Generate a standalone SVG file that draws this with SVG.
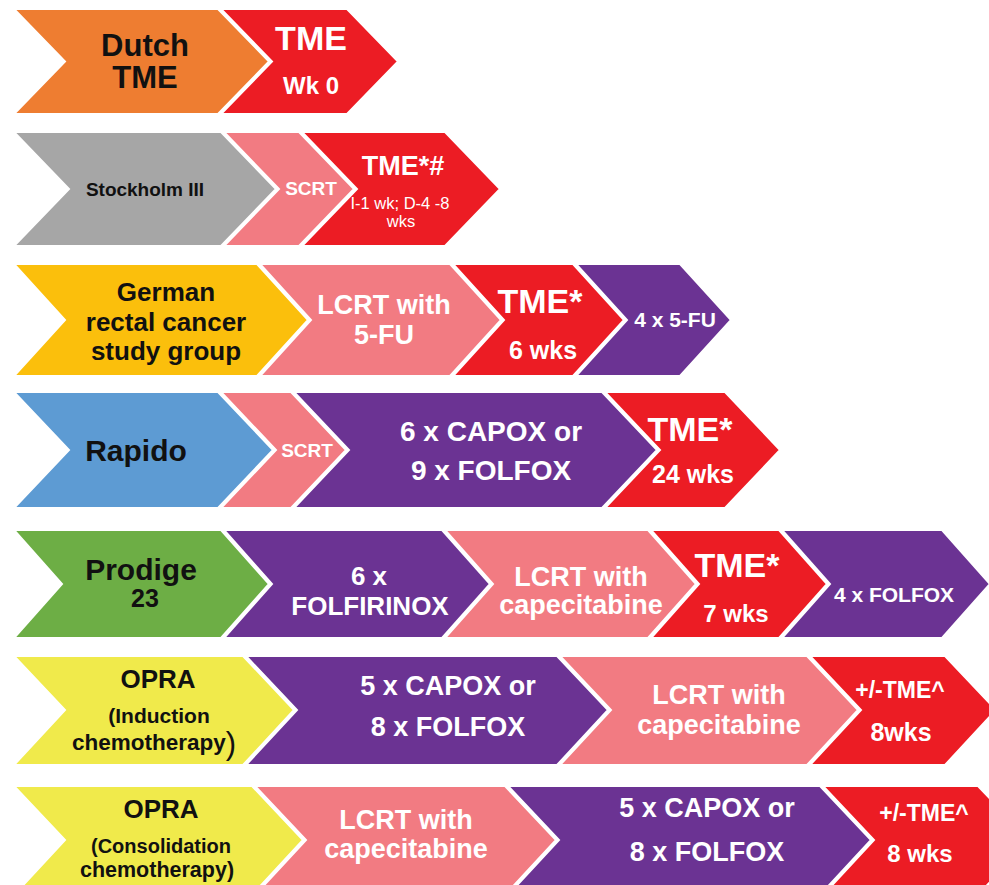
<svg xmlns="http://www.w3.org/2000/svg" width="989" height="885" viewBox="0 0 989 885">
<style>
polygon{stroke:#fff;stroke-width:2;stroke-linejoin:miter}
text{font-family:"Liberation Sans",Arial,sans-serif;font-weight:bold;text-anchor:middle}
.w{fill:#fff}
.k{fill:#111}
.reg{font-weight:normal}
.or{fill:#EE7D31}.rd{fill:#EC1C24}.gy{fill:#A6A6A6}.pk{fill:#F27B82}.gd{fill:#FBBF0C}.pu{fill:#6B3393}.bl{fill:#5D9BD3}.gn{fill:#6DAE45}.yl{fill:#F0EA4B}
</style>
<rect width="989" height="885" fill="#fff"/>
<g id="row-dutch">
<g id="dutch-label"><polygon class="or" points="14,9 218,9 269,61.5 218,114 14,114 65,61.5"/><text class="k" x="145" y="56" font-size="31">Dutch</text><text class="k" x="145" y="88" font-size="31">TME</text></g>
<g id="dutch-tme"><polygon class="rd" points="221,9 347,9 398,61.5 347,114 221,114 272,61.5"/><text class="w" x="311" y="50" font-size="34">TME</text><text class="w" x="311" y="94" font-size="24">Wk 0</text></g>
</g>
<g id="row-stockholm">
<g id="stockholm-label"><polygon class="gy" points="14,132 221,132 276,189 221,246 14,246 69,189"/><text class="k" x="145" y="196" font-size="19">Stockholm III</text></g>
<g id="stockholm-tme"><polygon class="rd" points="302,132 445,132 500,189 445,246 302,246 357,189"/><text class="w" x="403" y="175" font-size="27">TME*#</text><text class="w reg" x="400" y="209" font-size="16.5">I-1 wk; D-4 -8</text><text class="w reg" x="401" y="227" font-size="16.5">wks</text></g>
<g id="stockholm-scrt"><polygon class="pk" points="224,132 299,132 354,189 299,246 224,246 279,189"/><text class="w" x="311" y="195" font-size="19">SCRT</text></g>
</g>
<g id="row-german">
<g id="german-label"><polygon class="gd" points="14,264 257,264 308,320 257,376 14,376 65,320"/><text class="k" x="166" y="301" font-size="26">German</text><text class="k" x="166" y="331" font-size="26">rectal cancer</text><text class="k" x="166" y="360" font-size="26">study group</text></g>
<g id="german-lcrt"><polygon class="pk" points="260,264 450,264 501,320 450,376 260,376 311,320"/><text class="w" x="384" y="314" font-size="27">LCRT with</text><text class="w" x="384" y="344" font-size="27">5-FU</text></g>
<g id="german-tme"><polygon class="rd" points="453,264 573,264 624,320 573,376 453,376 504,320"/><text class="w" x="540" y="313" font-size="34">TME*</text><text class="w" x="543" y="359" font-size="25">6 wks</text></g>
<g id="german-5fu"><polygon class="pu" points="576,264 680,264 731,320 680,376 576,376 627,320"/><text class="w" x="675" y="327" font-size="21">4 x 5-FU</text></g>
</g>
<g id="row-rapido">
<g id="rapido-label"><polygon class="bl" points="14,392 218,392 273,450 218,508 14,508 69,450"/><text class="k" x="136" y="461" font-size="30">Rapido</text></g>
<g id="rapido-scrt"><polygon class="pk" points="221,392 291,392 346,450 291,508 221,508 276,450"/><text class="w" x="307" y="457" font-size="19">SCRT</text></g>
<g id="rapido-chemo"><polygon class="pu" points="294,392 602,392 657,450 602,508 294,508 349,450"/><text class="w" x="491" y="441" font-size="28">6 x CAPOX or</text><text class="w" x="491" y="480" font-size="28">9 x FOLFOX</text></g>
<g id="rapido-tme"><polygon class="rd" points="605,392 725,392 780,450 725,508 605,508 660,450"/><text class="w" x="690" y="441" font-size="34">TME*</text><text class="w" x="693" y="483" font-size="25">24 wks</text></g>
</g>
<g id="row-prodige">
<g id="prodige-label"><polygon class="gn" points="14,530 221,530 269,584 221,638 14,638 62,584"/><text class="k" x="141" y="580" font-size="30">Prodige</text><text class="k" x="145" y="607" font-size="25">23</text></g>
<g id="prodige-folfirinox"><polygon class="pu" points="224,530 442,530 490,584 442,638 224,638 272,584"/><text class="w" x="369" y="585" font-size="26">6 x</text><text class="w" x="370" y="615" font-size="26">FOLFIRINOX</text></g>
<g id="prodige-lcrt"><polygon class="pk" points="445,530 648,530 696,584 648,638 445,638 493,584"/><text class="w" x="581" y="586" font-size="27">LCRT with</text><text class="w" x="581" y="614" font-size="27">capecitabine</text></g>
<g id="prodige-tme"><polygon class="rd" points="651,530 779,530 827,584 779,638 651,638 699,584"/><text class="w" x="737" y="577" font-size="34">TME*</text><text class="w" x="736" y="622" font-size="24">7 wks</text></g>
<g id="prodige-folfox"><polygon class="pu" points="782,530 942,530 990,584 942,638 782,638 830,584"/><text class="w" x="894" y="602" font-size="21">4 x FOLFOX</text></g>
</g>
<g id="row-opra-induction">
<g id="opra1-label"><polygon class="yl" points="14,656 243,656 294,710 243,765 14,765 65,710"/><text class="k" x="158" y="688" font-size="26">OPRA</text><text class="k" x="159" y="723" font-size="21">(Induction</text><text class="k" x="154" y="750" font-size="22.5">chemotherapy<tspan font-size="31" font-weight="normal" dy="4">)</tspan></text></g>
<g id="opra1-chemo"><polygon class="pu" points="246,656 557,656 608,710 557,765 246,765 297,710"/><text class="w" x="448" y="695" font-size="27">5 x CAPOX or</text><text class="w" x="448" y="736" font-size="27">8 x FOLFOX</text></g>
<g id="opra1-lcrt"><polygon class="pk" points="560,656 807,656 858,710 807,765 560,765 611,710"/><text class="w" x="719" y="704" font-size="27">LCRT with</text><text class="w" x="719" y="734" font-size="27">capecitabine</text></g>
<g id="opra1-tme"><polygon class="rd" points="810,656 945,656 996,710 945,765 810,765 861,710"/><text class="w" x="900" y="698" font-size="23">+/-TME^</text><text class="w" x="901" y="741" font-size="25">8wks</text></g>
</g>
<g id="row-opra-consolidation">
<g id="opra2-label"><polygon class="yl" points="14,786 252,786 303,840 252,895 14,895 65,840"/><text class="k" x="161" y="818" font-size="26">OPRA</text><text class="k" x="161" y="853" font-size="20">(Consolidation</text><text class="k" x="157" y="877" font-size="21.5">chemotherapy)</text></g>
<g id="opra2-lcrt"><polygon class="pk" points="255,786 505,786 556,840 505,895 255,895 306,840"/><text class="w" x="406" y="829" font-size="27">LCRT with</text><text class="w" x="406" y="858" font-size="27">capecitabine</text></g>
<g id="opra2-chemo"><polygon class="pu" points="508,786 820,786 871,840 820,895 508,895 559,840"/><text class="w" x="707" y="817" font-size="27">5 x CAPOX or</text><text class="w" x="707" y="861" font-size="27">8 x FOLFOX</text></g>
<g id="opra2-tme"><polygon class="rd" points="823,786 978,786 1029,840 978,895 823,895 874,840"/><text class="w" x="924" y="821" font-size="23">+/-TME^</text><text class="w" x="920" y="862" font-size="24">8 wks</text></g>
</g>
<g id="connectors"/>
</svg>
